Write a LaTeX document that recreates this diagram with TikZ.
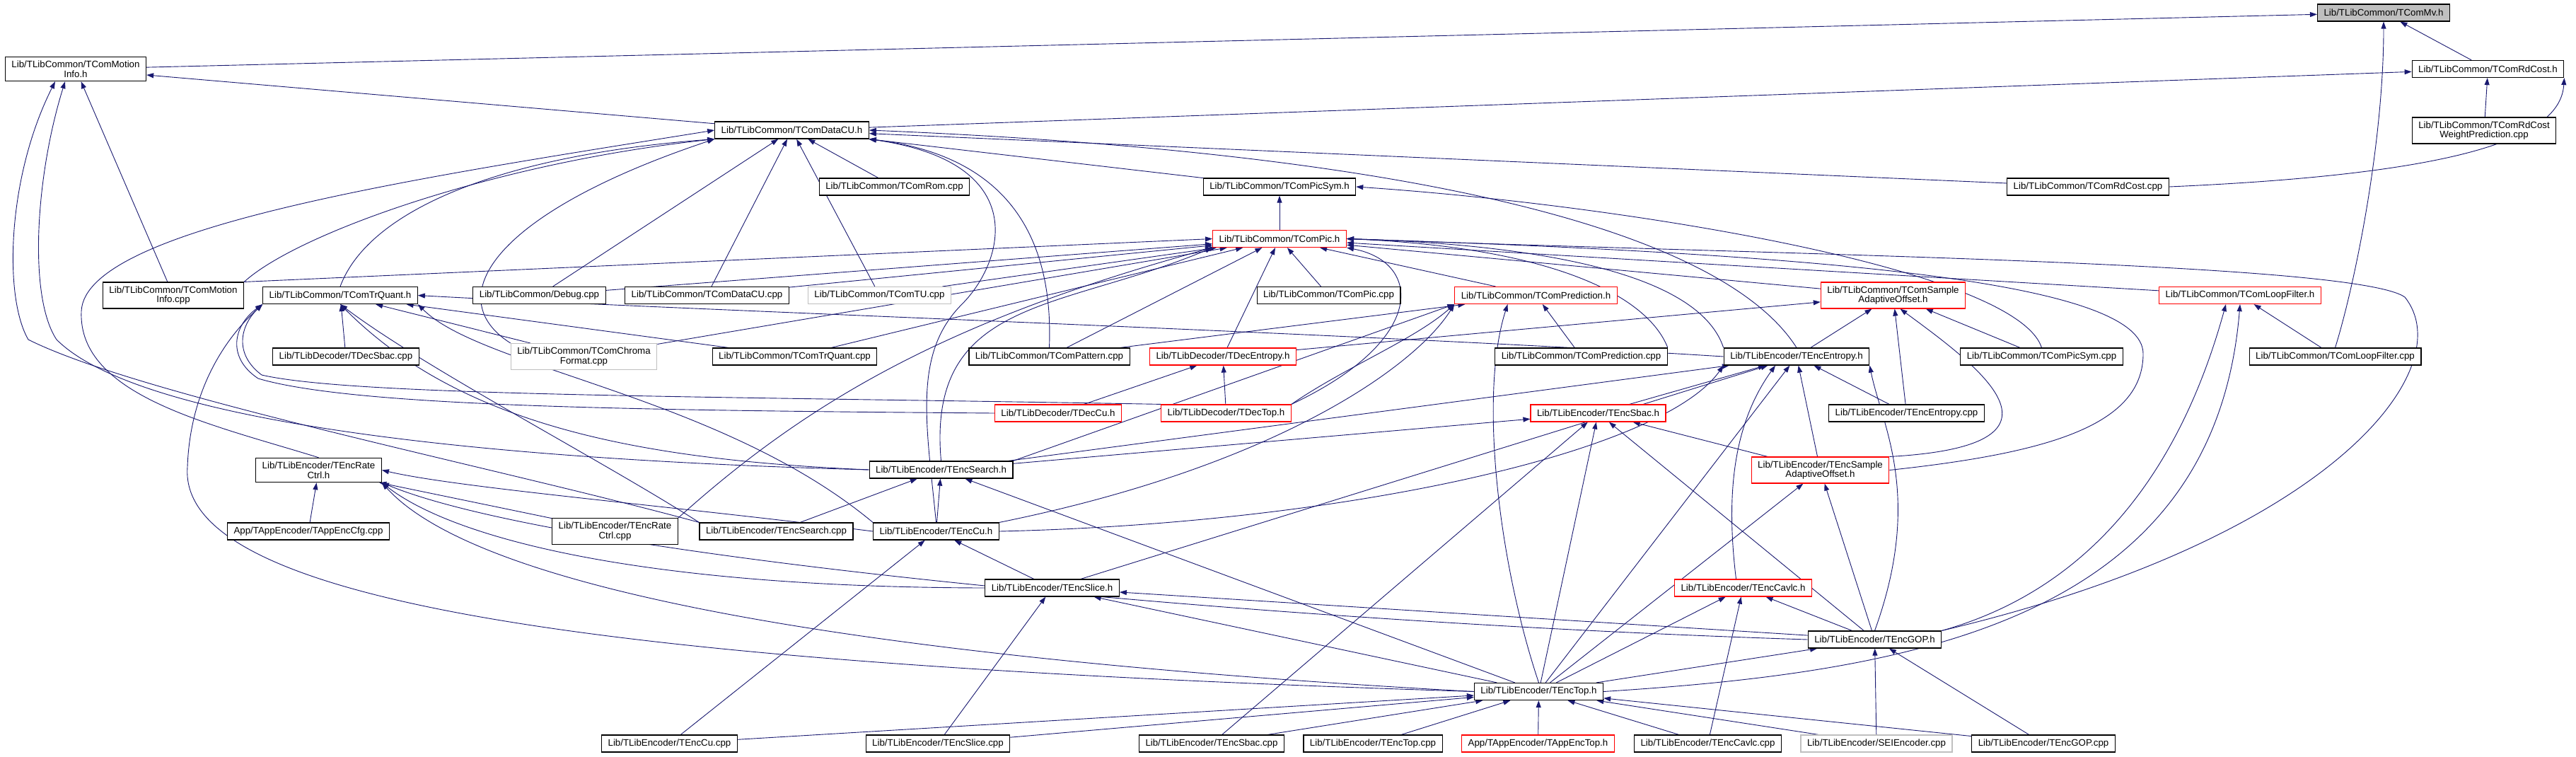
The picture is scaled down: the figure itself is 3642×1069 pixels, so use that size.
\documentclass[tikz,border=0pt]{standalone}
\usepackage{fontspec}
\setmainfont{Liberation Sans}
\usepackage{xcolor}
\usepackage{tikz}
\usetikzlibrary{arrows.meta,backgrounds}
\definecolor{edgeblue}{HTML}{191970}
\definecolor{truncred}{HTML}{FF0000}
\definecolor{nodocgray}{HTML}{BFBFBF}
\definecolor{rootgray}{HTML}{BFBFBF}
\newcommand{\filefont}{\fontsize{13.3}{13.5}\selectfont}

\begin{document}
\begin{tikzpicture}[
  x=1pt,y=-1pt,
  every node/.style={font=\filefont,align=center},
  file/.style={rectangle,draw=black,line width=1.2pt,fill=white,
               inner xsep=9pt,inner ysep=5.5pt,minimum height=24pt},
  trunc/.style={file,draw=truncred},
  nodoc/.style={file,draw=nodocgray},
  root/.style={file,fill=rootgray},
  dep/.style={-{Stealth[length=10pt,width=7pt,inset=0pt]},draw=edgeblue,line width=0.9pt},
]
\useasboundingbox (0,0) rectangle (3642,1069);

\node[root]  (mv)       at (3370,18)     {Lib/TLibCommon/TComMv.h};
\node[file]  (mi)       at (107,97.5)    {Lib/TLibCommon/TComMotion\\Info.h};
\node[file]  (rdh)      at (3517.5,97.5) {Lib/TLibCommon/TComRdCost.h};
\node[file]  (rdwp)     at (3512,184.5)  {Lib/TLibCommon/TComRdCost\\WeightPrediction.cpp};
\node[file]  (cuh)      at (1119.5,184)  {Lib/TLibCommon/TComDataCU.h};
\node[file]  (rom)      at (1264.5,264)  {Lib/TLibCommon/TComRom.cpp};
\node[file]  (psh)      at (1809,264)    {Lib/TLibCommon/TComPicSym.h};
\node[file]  (rdc)      at (2952,264)    {Lib/TLibCommon/TComRdCost.cpp};
\node[trunc] (pich)     at (1809,337.5)  {Lib/TLibCommon/TComPic.h};
\node[file]  (micpp)    at (245,417.5)   {Lib/TLibCommon/TComMotion\\Info.cpp};
\node[file]  (tqh)      at (481,417.5)   {Lib/TLibCommon/TComTrQuant.h};
\node[file]  (dbg)      at (762.5,417.5) {Lib/TLibCommon/Debug.cpp};
\node[file]  (cucpp)    at (999.5,417.5) {Lib/TLibCommon/TComDataCU.cpp};
\node[nodoc] (tu)       at (1243.5,417.5) {Lib/TLibCommon/TComTU.cpp};
\node[file]  (piccpp)   at (1878.5,417.5) {Lib/TLibCommon/TComPic.cpp};
\node[trunc] (predh)    at (2171.5,417.5) {Lib/TLibCommon/TComPrediction.h};
\node[trunc] (saoh)     at (2676.5,417.5) {Lib/TLibCommon/TComSample\\AdaptiveOffset.h};
\node[trunc] (lfh)      at (3167,417.5)  {Lib/TLibCommon/TComLoopFilter.h};
\node[file]  (dsbac)    at (489,504)     {Lib/TLibDecoder/TDecSbac.cpp};
\node[nodoc] (chroma)   at (825.5,504)   {Lib/TLibCommon/TComChroma\\Format.cpp};
\node[file]  (tqcpp)    at (1123.5,504)  {Lib/TLibCommon/TComTrQuant.cpp};
\node[file]  (patt)     at (1483.5,504)  {Lib/TLibCommon/TComPattern.cpp};
\node[trunc] (dent)     at (1729,504)    {Lib/TLibDecoder/TDecEntropy.h};
\node[file]  (predcpp)  at (2235.5,504)  {Lib/TLibCommon/TComPrediction.cpp};
\node[file]  (eent)     at (2540,504)    {Lib/TLibEncoder/TEncEntropy.h};
\node[file]  (pscpp)    at (2886.5,504)  {Lib/TLibCommon/TComPicSym.cpp};
\node[file]  (lfcpp)    at (3301.5,504)  {Lib/TLibCommon/TComLoopFilter.cpp};
\node[trunc] (dcu)      at (1496,584)    {Lib/TLibDecoder/TDecCu.h};
\node[trunc] (dtop)     at (1733.5,584)  {Lib/TLibDecoder/TDecTop.h};
\node[trunc] (esbac)    at (2259.5,584)  {Lib/TLibEncoder/TEncSbac.h};
\node[file]  (eentcpp)  at (2695.5,584)  {Lib/TLibEncoder/TEncEntropy.cpp};
\node[file]  (rch)      at (450.5,664.5) {Lib/TLibEncoder/TEncRate\\Ctrl.h};
\node[file]  (esh)      at (1330.5,664)  {Lib/TLibEncoder/TEncSearch.h};
\node[trunc] (esao)     at (2573.5,664.5) {Lib/TLibEncoder/TEncSample\\AdaptiveOffset.h};
\node[file]  (cfg)      at (436,751)     {App/TAppEncoder/TAppEncCfg.cpp};
\node[file]  (rccpp)    at (869.5,751)   {Lib/TLibEncoder/TEncRate\\Ctrl.cpp};
\node[file]  (escpp)    at (1097.5,751)  {Lib/TLibEncoder/TEncSearch.cpp};
\node[file]  (ecuh)     at (1323.5,751)  {Lib/TLibEncoder/TEncCu.h};
\node[file]  (eslh)     at (1487.5,831)  {Lib/TLibEncoder/TEncSlice.h};
\node[trunc] (ecavh)    at (2464.5,831)  {Lib/TLibEncoder/TEncCavlc.h};
\node[file]  (egoph)    at (2650.5,904)  {Lib/TLibEncoder/TEncGOP.h};
\node[file]  (etoph)    at (2175.5,977.5) {Lib/TLibEncoder/TEncTop.h};
\node[file]  (ecucpp)   at (946.5,1051)  {Lib/TLibEncoder/TEncCu.cpp};
\node[file]  (eslcpp)   at (1326,1051)   {Lib/TLibEncoder/TEncSlice.cpp};
\node[file]  (esbaccpp) at (1713,1051)   {Lib/TLibEncoder/TEncSbac.cpp};
\node[file]  (etopcpp)  at (1941,1051)   {Lib/TLibEncoder/TEncTop.cpp};
\node[trunc] (apptop)   at (2174.5,1051) {App/TAppEncoder/TAppEncTop.h};
\node[file]  (ecavcpp)  at (2414.5,1051) {Lib/TLibEncoder/TEncCavlc.cpp};
\node[nodoc] (sei)      at (2653,1051)   {Lib/TLibEncoder/SEIEncoder.cpp};
\node[file]  (egopcpp)  at (2889,1051)   {Lib/TLibEncoder/TEncGOP.cpp};

\begin{scope}[on background layer]
\draw[dep] (mi) -- (mv);
\draw[dep] (rdh) -- (mv);
\draw[dep] (lfcpp.north) .. controls (3330,400) and (3370,200) .. (mv.south);
\draw[dep] (cuh) -- (mi);
\draw[dep] (cuh) -- (rdh);
\draw[dep] (rdwp) -- (rdh);
\draw[dep] (rdc.east) .. controls (3500,245) and (3620,190) .. (rdh.south east);
\draw[dep] (micpp) -- (mi);
\draw[dep] (esh.west) .. controls (700,650) and (200,600) .. (80,480)
  .. controls (40,420) and (50,250) .. ([xshift=-15pt]mi.south);
\draw[dep] (escpp.north west) .. controls (700,660) and (200,560) .. (40,480)
  .. controls (5,420) and (10,250) .. ([xshift=-29pt]mi.south);

\draw[dep] (rch.north) .. controls (300,600) and (110,560) .. (115,440)
  .. controls (120,320) and (600,250) .. (cuh.west);
\draw[dep] (micpp.north east) .. controls (420,330) and (700,230) .. (cuh.south west);
\draw[dep] (tqh.north) .. controls (520,300) and (700,220) .. (cuh.south west);
\draw[dep] (chroma.north west) .. controls (620,420) and (700,300) .. (cuh.south west);
\draw[dep] (dbg) -- (cuh);
\draw[dep] (cucpp) -- (cuh);
\draw[dep] (tu) -- (cuh);
\draw[dep] (rom) -- (cuh);
\draw[dep] (psh) -- (cuh);
\draw[dep] (rdc) -- (cuh);
\draw[dep] (eent.north) .. controls (2450,350) and (2100,220) .. (cuh.east);
\draw[dep] (patt.north) .. controls (1490,330) and (1420,220) .. (cuh.south east);
\draw[dep] (ecuh.north) .. controls (1310,600) and (1290,500) .. (1360,430)
  .. controls (1420,370) and (1460,230) .. (cuh.south east);

\draw[dep] (micpp.north east) -- (pich.west);
\draw[dep] (dbg) -- (pich);
\draw[dep] (cucpp) -- (pich);
\draw[dep] (tu) -- (pich);
\draw[dep] (chroma) -- (pich);
\draw[dep] (tqcpp) -- (pich);
\draw[dep] (patt) -- (pich);
\draw[dep] (dent) -- (pich);
\draw[dep] (piccpp) -- (pich);
\draw[dep] (predh) -- (pich);
\draw[dep] (predcpp.north east) .. controls (2330,420) and (2200,350) .. (pich.east);
\draw[dep] (eent.north west) .. controls (2400,380) and (2150,345) .. (pich.east);
\draw[dep] (saoh) -- (pich);
\draw[dep] (lfh) -- (pich);
\draw[dep] (esao.east) .. controls (2900,640) and (3030,600) .. (3030,500)
  .. controls (3030,400) and (2600,360) .. (pich.east);
\draw[dep] (egoph.north east) .. controls (3300,760) and (3480,520) .. (3400,420)
  .. controls (3330,370) and (2500,360) .. (pich.east);
\draw[dep] (esh.north) .. controls (1310,420) and (1500,440) .. (pich.south west);
\draw[dep] (rccpp.north east) .. controls (1150,560) and (1350,450) .. (pich.south west);
\draw[dep] (dtop.north east) .. controls (2020,480) and (2010,370) .. (pich.south east);

\draw[dep] (pich) -- (psh);
\draw[dep] (pscpp.north) .. controls (2850,380) and (2300,290) .. (psh.east);

\draw[dep] (dsbac) -- (tqh);
\draw[dep] (chroma) -- (tqh);
\draw[dep] (tqcpp) -- (tqh);
\draw[dep] (eent.west) .. controls (1900,470) and (1000,440) .. (tqh.east);
\draw[dep] (esh.west) .. controls (900,650) and (650,600) .. (tqh.south);
\draw[dep] (ecuh.north west) .. controls (1020,560) and (680,520) .. (tqh.south east);
\draw[dep] (escpp.north west) .. controls (850,650) and (600,520) .. (tqh.south);
\draw[dep] (dcu.west) .. controls (900,580) and (500,575) .. (365,535)
  .. controls (320,505) and (330,460) .. (tqh.south west);
\draw[dep] (dtop.north west) .. controls (1000,560) and (500,560) .. (370,530)
  .. controls (330,500) and (340,460) .. (tqh.south west);
\draw[dep] (etoph.west) .. controls (900,940) and (250,860) .. (265,660)
  .. controls (270,520) and (350,450) .. (tqh.south west);

\draw[dep] (patt) -- (predh);
\draw[dep] (dtop.north east) .. controls (1900,520) and (2000,480) .. (predh.south west);
\draw[dep] (esh.north east) -- (predh.south west);
\draw[dep] (predcpp) -- (predh);
\draw[dep] (etoph.north) .. controls (2120,800) and (2090,560) .. ([xshift=-40pt]predh.south);
\draw[dep] (ecuh.north east) .. controls (1800,660) and (2000,520) .. (predh.south west);

\draw[dep] (dcu) -- (dent);
\draw[dep] (dtop) -- (dent);
\draw[dep] (dent) -- (saoh);

\draw[dep] (eent) -- (saoh);
\draw[dep] (eentcpp) -- (saoh);
\draw[dep] (pscpp) -- (saoh);
\draw[dep] (esao.north east) .. controls (2950,630) and (2800,520) .. ([xshift=10pt]saoh.south);

\draw[dep] (lfcpp) -- (lfh);
\draw[dep] (egoph.north east) .. controls (3000,820) and (3100,600) .. ([xshift=-20pt]lfh.south);
\draw[dep] (etoph.east) .. controls (2700,950) and (3130,880) .. (lfh.south);

\draw[dep] (eentcpp) -- (eent);
\draw[dep] (esbac) -- (eent);
\draw[dep] (esao) -- (eent);
\draw[dep] ([xshift=-10pt]ecavh.north) .. controls (2440,700) and (2450,600) .. ([xshift=-30pt]eent.south);
\draw[dep] (egoph.north) .. controls (2720,700) and (2660,600) .. (eent.south east);
\draw[dep] (etoph) -- (eent);
\draw[dep] (esh) -- (eent);
\draw[dep] (ecuh.east) .. controls (1900,740) and (2350,640) .. (eent.south west);
\draw[dep] (eslh) -- (eent);

\draw[dep] (esh) -- (esbac);
\draw[dep] (esbaccpp) -- (esbac);
\draw[dep] (etoph) -- (esbac);
\draw[dep] (egoph) -- (esbac);
\draw[dep] (esao) -- (esbac);

\draw[dep] (egoph) -- (esao);
\draw[dep] (etoph) -- (esao);

\draw[dep] (ecavcpp) -- (ecavh);
\draw[dep] (egoph) -- (ecavh);
\draw[dep] (etoph) -- (ecavh);

\draw[dep] (etoph) -- (egoph);
\draw[dep] (sei) -- (egoph);
\draw[dep] (egopcpp) -- (egoph);
\draw[dep] (egoph) -- (eslh);
\draw[dep] (egoph.west) .. controls (1800,880) and (800,790) .. (rch.south east);

\draw[dep] (etoph.west) .. controls (1400,940) and (700,860) .. (rch.south east);
\draw[dep] (etoph) -- (eslh);
\draw[dep] (etoph) -- (esh);

\draw[dep] (eslh.west) .. controls (900,830) and (640,760) .. (rch.south east);
\draw[dep] (ecuh.west) .. controls (950,715) and (650,690) .. (rch.east);
\draw[dep] (rccpp) -- (rch);
\draw[dep] (cfg) -- (rch);

\draw[dep] (eslcpp) -- (eslh);
\draw[dep] (eslh) -- (ecuh);
\draw[dep] (ecucpp) -- (ecuh);
\draw[dep] (ecuh) -- (esh);
\draw[dep] (escpp) -- (esh);

\draw[dep] (ecucpp) -- (etoph);
\draw[dep] (eslcpp) -- (etoph);
\draw[dep] (esbaccpp) -- (etoph);
\draw[dep] (etopcpp) -- (etoph);
\draw[dep] (apptop) -- (etoph);
\draw[dep] (ecavcpp) -- (etoph);
\draw[dep] (sei) -- (etoph);
\draw[dep] (egopcpp) -- (etoph);
\end{scope}
\end{tikzpicture}
\end{document}
